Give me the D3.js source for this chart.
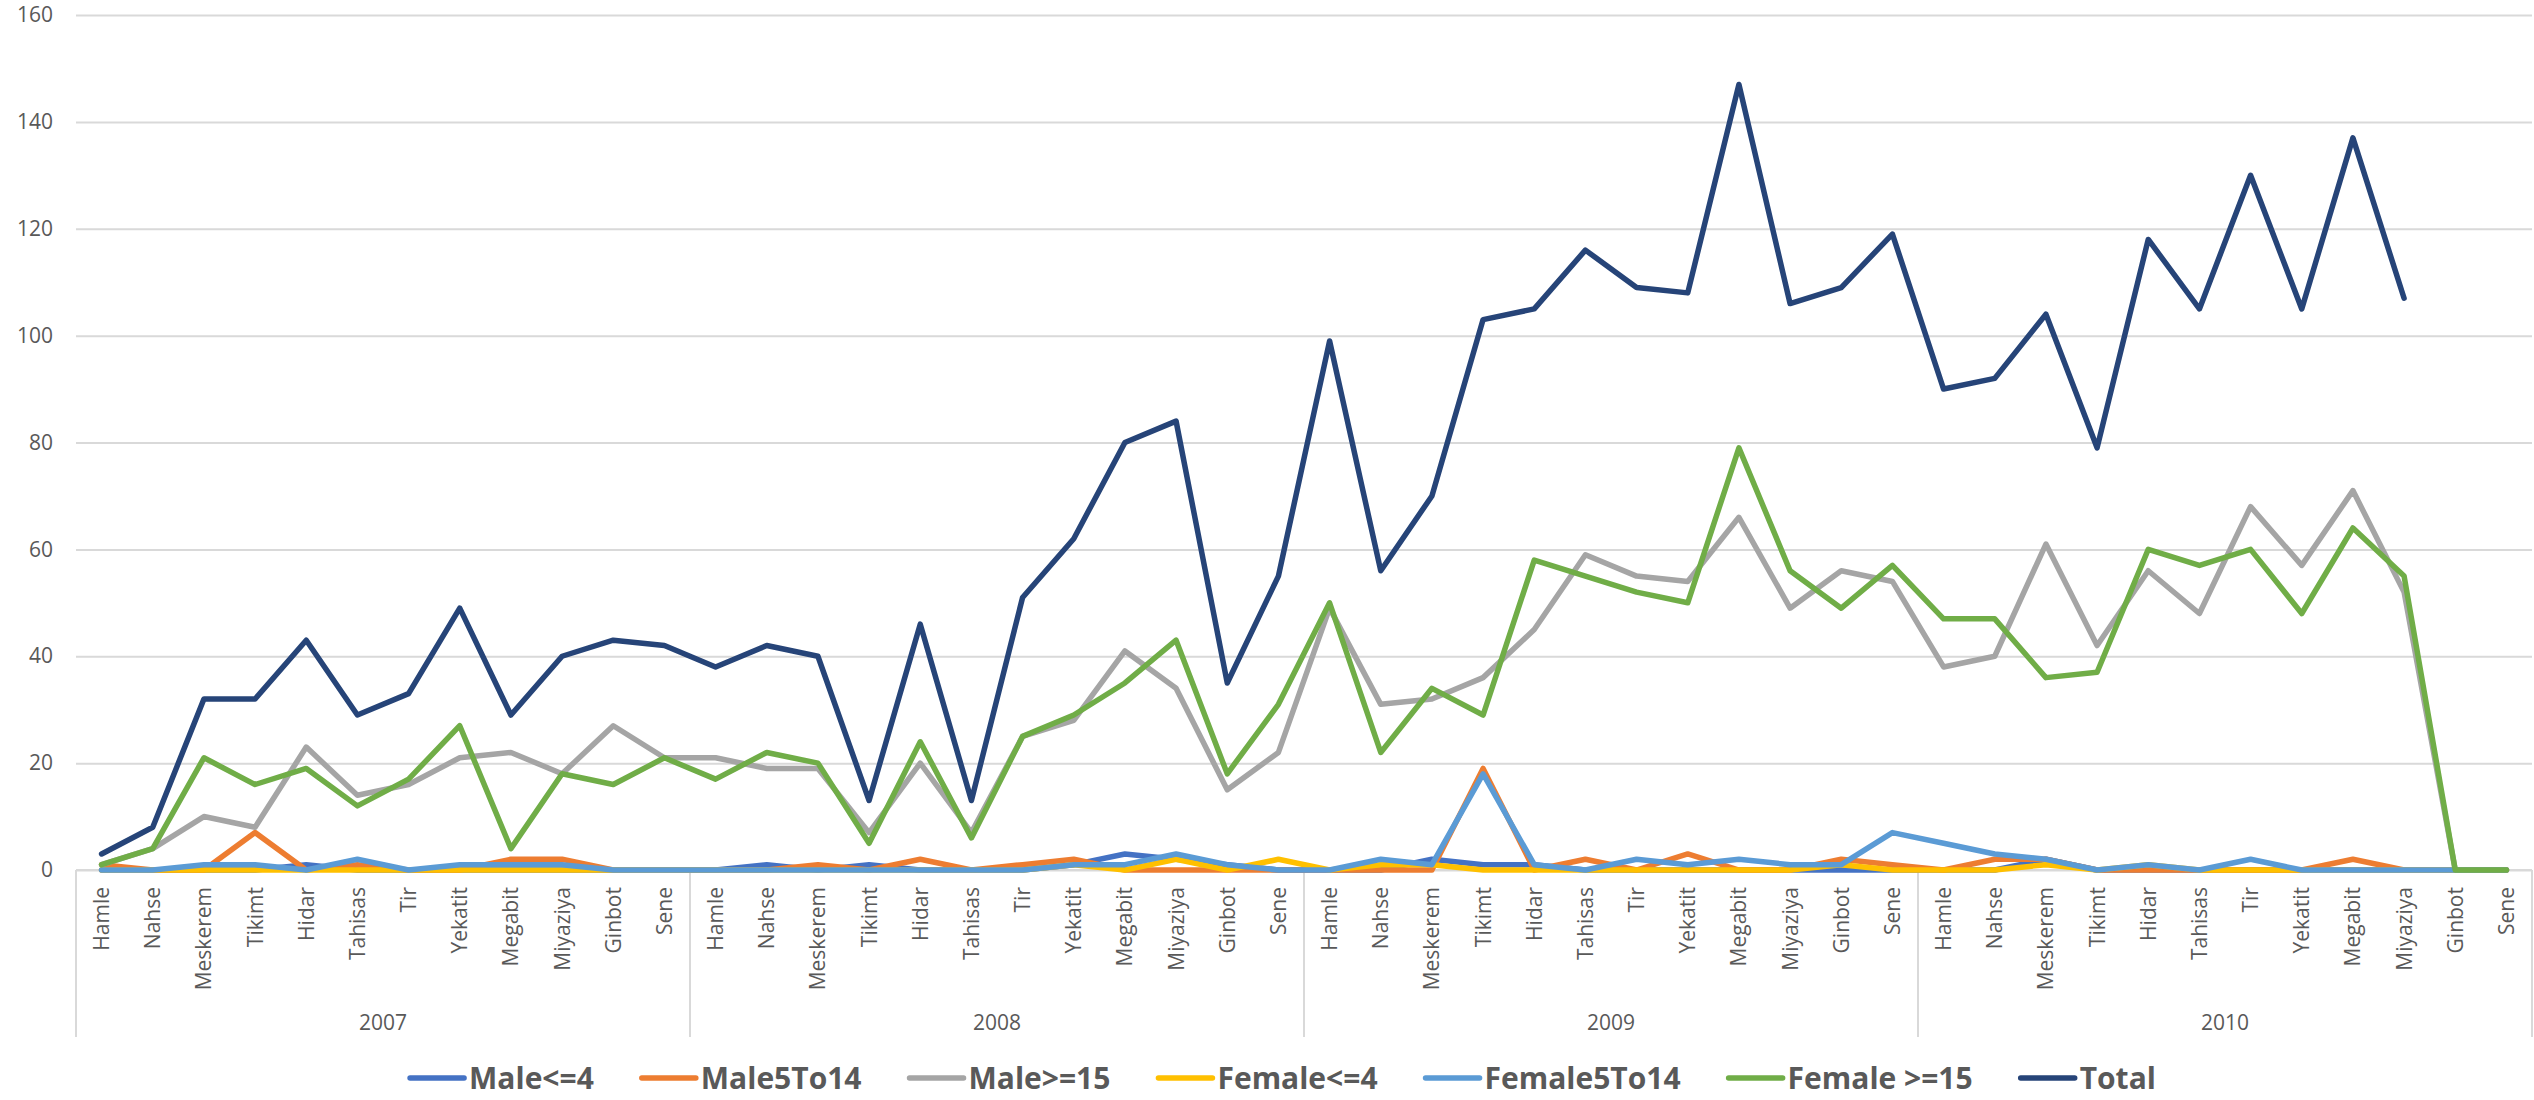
<!DOCTYPE html>
<html>
<head>
<meta charset="utf-8">
<script src="https://cdn.jsdelivr.net/npm/d3@7"></script>
<style>
  html, body { margin: 0; padding: 0; background: #ffffff; }
  svg { display: block; }
</style>
</head>
<body>
<svg id="chart" width="2534" height="1100"></svg>
<script>
// ---------- data ----------
const months = ["Hamle","Nahse","Meskerem","Tikimt","Hidar","Tahisas","Tir","Yekatit","Megabit","Miyaziya","Ginbot","Sene"];
const years = ["2007","2008","2009","2010"];
const yTicks = [0,20,40,60,80,100,120,140,160];

const seriesNames = ["Male<=4","Male5To14","Male>=15","Female<=4","Female5To14","Female >=15","Total"];

const male4 = [
  0,0,0,0,1,0,0,0,0,0,0,0,
  0,1,0,1,0,0,0,1,3,2,1,0,
  0,0,2,1,1,0,0,0,0,0,0,0,
  0,0,2,0,0,0,0,0,0,0,0,0
];
const male5to14 = [
  1,0,0,7,0,1,0,0,2,2,0,0,
  0,0,1,0,2,0,1,2,0,0,0,0,
  0,0,0,19,0,2,0,3,0,0,2,1,
  0,2,2,0,0,0,0,0,2,0,0,0
];
const male15 = [
  1,4,10,8,23,14,16,21,22,18,27,21,
  21,19,19,7,20,7,25,28,41,34,15,22,
  49,31,32,36,45,59,55,54,66,49,56,54,
  38,40,61,42,56,48,68,57,71,52,0,0
];
const female4 = [
  0,0,0,0,0,0,0,0,0,0,0,0,
  0,0,0,0,0,0,0,1,0,2,0,2,
  0,1,1,0,0,0,0,0,0,0,1,0,
  0,0,1,0,1,0,0,0,0,0,0,0
];
const female5to14 = [
  0,0,1,1,0,2,0,1,1,1,0,0,
  0,0,0,0,0,0,0,1,1,3,1,0,
  0,2,1,18,1,0,2,1,2,1,1,7,
  5,3,2,0,1,0,2,0,0,0,0,0
];
const female15 = [
  1,4,21,16,19,12,17,27,4,18,16,21,
  17,22,20,5,24,6,25,29,35,43,18,31,
  50,22,34,29,58,55,52,50,79,56,49,57,
  47,47,36,37,60,57,60,48,64,55,0,0
];
const total = [
  3,8,32,32,43,29,33,49,29,40,43,42,
  38,42,40,13,46,13,51,62,80,84,35,55,
  99,56,70,103,105,116,109,108,147,106,109,119,
  90,92,104,79,118,105,130,105,137,107,null,null
];

const colors = ["#4472C4","#ED7D31","#A5A5A5","#FFC000","#5B9BD5","#70AD47","#264478"];
const seriesValues = [male4, male5to14, male15, female4, female5to14, female15, total];

// ---------- layout ----------
const W = 2534, H = 1100;
const plot = {left: 76, right: 2532, top: 15, bottom: 870};
const FONT = "'Open Sans', 'Noto Sans', sans-serif";
const TXT = "#595959";
const GRID = "#d9d9d9";

const svg = d3.select("#chart");
svg.append("rect").attr("width", W).attr("height", H).attr("fill", "#fff");

const categories = [];
years.forEach(y => months.forEach(m => categories.push({year: y, month: m})));
const idx = d3.range(categories.length);

const x = d3.scaleBand().domain(idx).range([plot.left, plot.right]).paddingInner(0).paddingOuter(0);
const cx = i => x(i) + x.bandwidth() / 2;
const y = d3.scaleLinear().domain([0, 160]).range([plot.bottom, plot.top]);

// gridlines + y labels
const yAxis = d3.axisLeft(y).tickValues(yTicks).tickSize(-(plot.right - plot.left)).tickPadding(23);
const gy = svg.append("g").attr("transform", `translate(${plot.left},0)`).call(yAxis);
gy.select(".domain").remove();
gy.selectAll(".tick line").attr("stroke", GRID).attr("stroke-width", 2);
gy.selectAll(".tick text").attr("fill", TXT).style("font-family", FONT).style("font-size", "21px");

// category axis line
svg.append("line").attr("x1", plot.left).attr("x2", plot.right)
  .attr("y1", plot.bottom).attr("y2", plot.bottom)
  .attr("stroke", GRID).attr("stroke-width", 2);

// month labels
svg.append("g").selectAll("text").data(idx).join("text")
  .attr("transform", i => `translate(${cx(i)},887) rotate(-90)`)
  .attr("text-anchor", "end")
  .attr("dy", "0.36em")
  .attr("fill", TXT)
  .style("font-family", FONT).style("font-size", "21px")
  .text(i => categories[i].month);

// year separators and labels
const groupEdges = d3.range(years.length + 1).map(k => k === years.length ? plot.right : x(k * months.length));
svg.append("g").selectAll("line").data(groupEdges).join("line")
  .attr("x1", d => d).attr("x2", d => d)
  .attr("y1", plot.bottom).attr("y2", 1037)
  .attr("stroke", GRID).attr("stroke-width", 2);
svg.append("g").selectAll("text").data(years).join("text")
  .attr("x", (d, k) => (groupEdges[k] + groupEdges[k + 1]) / 2)
  .attr("y", 1030)
  .attr("text-anchor", "middle")
  .attr("fill", TXT)
  .style("font-family", FONT).style("font-size", "21px")
  .text(d => d);

// lines
const line = d3.line()
  .defined(d => d.v !== null && d.v !== undefined)
  .x(d => cx(d.i)).y(d => y(d.v));
const gLines = svg.append("g");
seriesValues.forEach((vals, s) => {
  gLines.append("path")
    .datum(vals.map((v, i) => ({i, v})))
    .attr("d", line)
    .attr("fill", "none")
    .attr("stroke", colors[s])
    .attr("stroke-width", 5.5)
    .attr("stroke-linejoin", "round")
    .attr("stroke-linecap", "round");
});

// legend
const legend = svg.append("g");
const legY = 1078;
let cursor = 0;
seriesNames.forEach((name, s) => {
  const g = legend.append("g");
  g.append("line").attr("x1", cursor).attr("x2", cursor + 54)
    .attr("y1", legY).attr("y2", legY)
    .attr("stroke", colors[s]).attr("stroke-width", 5.5).attr("stroke-linecap", "round");
  const t = g.append("text").attr("x", cursor + 59).attr("y", legY).attr("dy", "0.35em")
    .attr("fill", TXT)
    .style("font-family", FONT).style("font-size", "30px").style("font-weight", 700)
    .text(name);
  const w = t.node().getComputedTextLength();
  cursor += 59 + w + 48;
});
const legW = cursor - 48;
legend.attr("transform", `translate(${1283 - legW / 2},0)`);
</script>
</body>
</html>
